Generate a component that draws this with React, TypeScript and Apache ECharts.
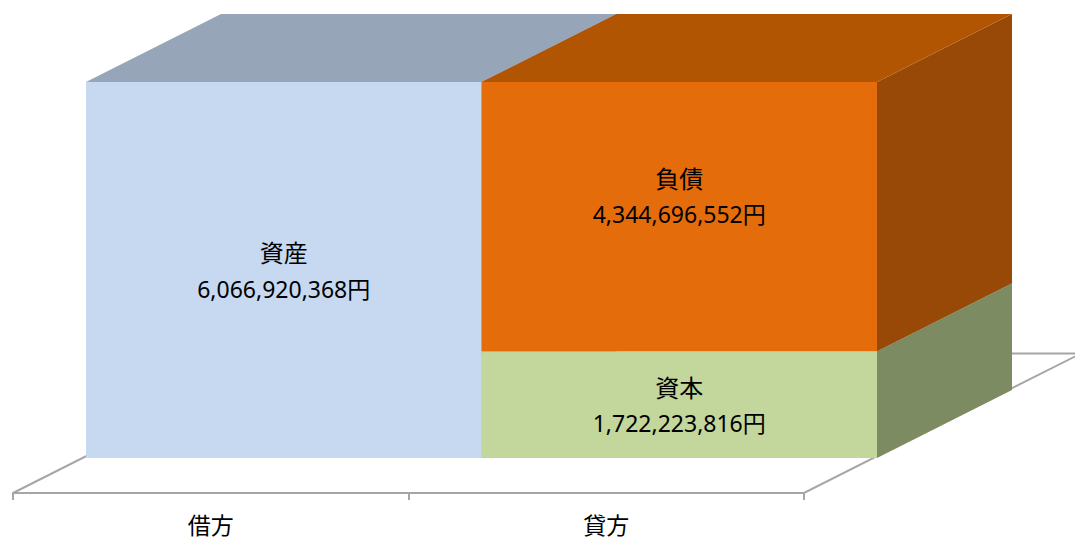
import React, { useEffect, useRef } from "react";
import * as echarts from "echarts";

// ---- data ----
const categories = ["借方", "貸方"];
const segmentNames = ["資産", "資本", "負債"];
const segmentCategory = [0, 1, 1];
const segmentValues = [6066920368, 1722223816, 4344696552];

// ---- style ----
const FRONT = ["#C6D9F0", "#C3D69B", "#E46C0A"];
const TOP = ["#97A5B8", "#9BAA78", "#B25503"];
const SIDE = ["#8795A8", "#7C8B62", "#984807"];
const DEPTH_X = 135;
const DEPTH_Y = -68;
const LABEL_DY: Record<string, number> = { 負債: -21 };
const FONT = "'Noto Sans', 'Noto Sans CJK JP', sans-serif";
const CJK_FONT = "'Noto Sans CJK JP', 'Noto Sans', sans-serif";
const FLOOR_COLOR = "#A6A6A6";

function fmt(v: number) {
  return v.toLocaleString("en-US") + "円";
}

export default function App() {
  const ref = useRef<HTMLDivElement>(null);
  useEffect(() => {
    document.body.style.margin = "0";
    if (!ref.current) return;
    const chart = echarts.init(ref.current, undefined, { renderer: "svg" });

    // stack segments per category
    const base: number[] = categories.map(() => 0);
    const barData = segmentValues.map((v, i) => {
      const c = segmentCategory[i];
      const s = base[c];
      base[c] += v;
      return [c, s, s + v, i];
    });
    const total = Math.max(...base);

    const option: any = {
      animation: false,
      grid: [
        { left: 86, top: 82, width: 791, height: 376 },
        { left: 13, top: 0, width: 791, height: 493 },
      ],
      xAxis: [
        { type: "category", data: categories, gridIndex: 0, show: false, boundaryGap: true },
        {
          type: "category",
          data: categories,
          gridIndex: 1,
          boundaryGap: true,
          axisLine: { show: true, lineStyle: { color: FLOOR_COLOR, width: 2 } },
          axisTick: { show: true, length: 7, lineStyle: { color: FLOOR_COLOR, width: 2 } },
          axisLabel: { margin: 19, fontSize: 23, lineHeight: 23, color: "#000", fontFamily: CJK_FONT },
        },
      ],
      yAxis: [
        { type: "value", gridIndex: 0, min: 0, max: total, show: false },
        { type: "value", gridIndex: 1, min: 0, max: 1, show: false },
      ],
      series: [
        {
          type: "custom",
          xAxisIndex: 1,
          yAxisIndex: 1,
          z: 1,
          silent: true,
          data: [[0, 0]],
          renderItem: (params: any, api: any) => {
            const bw = api.size([1, 0])[0];
            const p0 = api.coord([0, 0]);
            const p1 = api.coord([categories.length - 1, 0]);
            const xl = p0[0] - bw / 2;
            const xr = p1[0] + bw / 2;
            const y = p0[1];
            const fx = DEPTH_X * 2.05;
            const fy = DEPTH_Y * 2.05;
            return {
              type: "polygon",
              shape: {
                points: [
                  [xl, y],
                  [xr, y],
                  [xr + fx, y + fy],
                  [xl + fx, y + fy],
                ],
              },
              style: { fill: "none", stroke: FLOOR_COLOR, lineWidth: 2 },
            };
          },
        },
        {
          type: "custom",
          xAxisIndex: 0,
          yAxisIndex: 0,
          z: 2,
          data: barData,
          renderItem: (params: any, api: any) => {
            const c = api.value(0);
            const s = api.value(1);
            const e = api.value(2);
            const idx = api.value(3);
            const bw = api.size([1, 0])[0];
            const pb = api.coord([c, s]);
            const pt = api.coord([c, e]);
            const x0 = pb[0] - bw / 2;
            const x1 = pb[0] + bw / 2;
            const yb = pb[1];
            const yt = pt[1];
            const zb = params.dataIndex * 10;
            const name = segmentNames[idx];
            return {
              type: "group",
              children: [
                {
                  type: "polygon",
                  z2: zb + 1,
                  shape: {
                    points: [
                      [x1, yt],
                      [x1 + DEPTH_X, yt + DEPTH_Y],
                      [x1 + DEPTH_X, yb + DEPTH_Y],
                      [x1, yb],
                    ],
                  },
                  style: { fill: SIDE[idx] },
                },
                {
                  type: "polygon",
                  z2: zb + 2,
                  shape: {
                    points: [
                      [x0, yt],
                      [x1, yt],
                      [x1 + DEPTH_X, yt + DEPTH_Y],
                      [x0 + DEPTH_X, yt + DEPTH_Y],
                    ],
                  },
                  style: { fill: TOP[idx] },
                },
                {
                  type: "rect",
                  z2: zb + 3,
                  shape: { x: x0, y: yt, width: bw, height: yb - yt },
                  style: { fill: FRONT[idx] },
                },
                {
                  type: "text",
                  z2: 200,
                  x: (x0 + x1) / 2,
                  y: (yt + yb) / 2 + (LABEL_DY[name] || 0),
                  style: {
                    text: "{n|" + name + "}\n{v|" + fmt(segmentValues[idx]) + "}",
                    fill: "#000",
                    align: "center",
                    verticalAlign: "middle",
                    rich: {
                      n: { fontSize: 24, lineHeight: 37, fontFamily: CJK_FONT, fill: "#000" },
                      v: { fontSize: 23, lineHeight: 37, fontFamily: FONT, fill: "#000" },
                    },
                  },
                },
              ],
            };
          },
        },
      ],
    };
    chart.setOption(option);
    return () => chart.dispose();
  }, []);
  return <div ref={ref} style={{ width: 1075, height: 539 }} />;
}
